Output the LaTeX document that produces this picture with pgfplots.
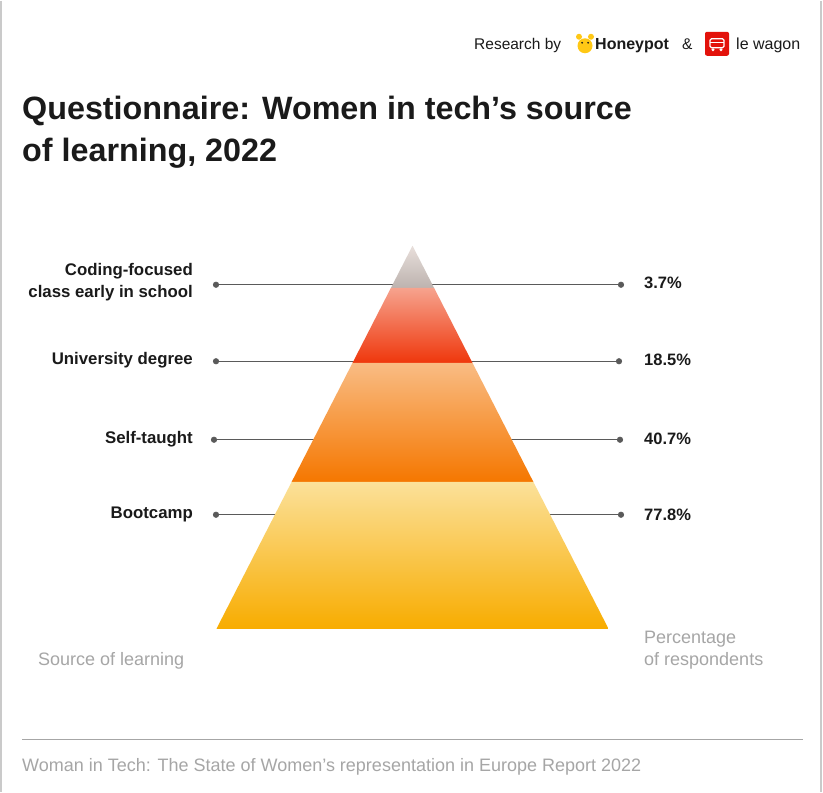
\documentclass[border=0pt]{standalone}
\usepackage{pgfplots}
\pgfplotsset{compat=1.18}
\usepackage{fontspec}
\setmainfont{Liberation Sans}

\definecolor{ink}{HTML}{1A1A1A}
\definecolor{soft}{HTML}{A6A6A6}
\definecolor{lead}{HTML}{5A5A5A}
\definecolor{grayA}{HTML}{E8DFDB}
\definecolor{grayB}{HTML}{BDB3AF}
\definecolor{redA}{HTML}{F6A38E}
\definecolor{redB}{HTML}{EF370C}
\definecolor{oraA}{HTML}{F9BC84}
\definecolor{oraB}{HTML}{F57700}
\definecolor{yelA}{HTML}{FBE19A}
\definecolor{yelB}{HTML}{F8AC00}
\definecolor{wagon}{HTML}{E3120B}
\definecolor{honey}{HTML}{FFC815}

\begin{document}
\begin{tikzpicture}
\begin{axis}[
    width=823pt, height=791pt, scale only axis,
    xmin=0, xmax=823, ymin=0, ymax=791,
    y dir=reverse,
    hide axis, clip=false,
]
% page frame
\path[fill=white] (axis cs:0,0) rectangle (axis cs:823,791);
\draw[soft!60, line width=1.5pt] (axis cs:1,0) -- (axis cs:1,791);
\draw[soft!60, line width=1.5pt] (axis cs:821,0) -- (axis cs:821,791);

% header
\node[anchor=base west, inner sep=0pt, font=\fontsize{15.5}{18}\selectfont, text=ink] at (axis cs:474,49) {Research by};
\fill[honey] (axis cs:585,45) circle[radius=7.5pt];
\fill[honey] (axis cs:579,36) circle[radius=3pt];
\fill[honey] (axis cs:591,36) circle[radius=3pt];
\fill[ink] (axis cs:582,42) circle[radius=1pt];
\fill[ink] (axis cs:588,42) circle[radius=1pt];
\node[anchor=base west, font=\fontsize{16}{18}\selectfont\bfseries, text=ink, inner sep=0pt] at (axis cs:595,49) {Honeypot};
\node[anchor=base west, font=\fontsize{15.5}{18}\selectfont, text=ink, inner sep=0pt] at (axis cs:682,49) {\&};
\fill[wagon, rounded corners=2pt] (axis cs:705,31) rectangle (axis cs:729,55);
\draw[white, line width=1.4pt, rounded corners=1.5pt] (axis cs:710,38) rectangle (axis cs:724,47);
\draw[white, line width=1pt] (axis cs:710,42) -- (axis cs:724,42);
\fill[white] (axis cs:713,49) circle[radius=1.6pt];
\fill[white] (axis cs:721,49) circle[radius=1.6pt];
\node[anchor=base west, font=\fontsize{16}{18}\selectfont, text=ink, inner sep=0pt] at (axis cs:736,49) {le wagon};

% title (base anchor = last line)
\node[anchor=base west, align=left, inner sep=0pt, text=ink,
      font=\fontsize{32.3}{42}\selectfont\bfseries] at (axis cs:22,161)
      {Questionnaire: Women in tech’s source\\of learning, 2022};

% leader lines
\addplot[lead, line width=0.9pt, mark=*, mark size=2.6pt, mark options={fill=lead, draw=lead}] coordinates {(216,284) (621,284)};
\addplot[lead, line width=0.9pt, mark=*, mark size=2.6pt, mark options={fill=lead, draw=lead}] coordinates {(216,360.5) (619,360.5)};
\addplot[lead, line width=0.9pt, mark=*, mark size=2.6pt, mark options={fill=lead, draw=lead}] coordinates {(214,439) (620,439)};
\addplot[lead, line width=0.9pt, mark=*, mark size=2.6pt, mark options={fill=lead, draw=lead}] coordinates {(216,514) (621,514)};

% pyramid segments
\addplot[draw=none, top color=grayA, bottom color=grayB] coordinates {(412.5,245) (434,287) (391,287)} -- cycle;
\addplot[draw=none, top color=redA, bottom color=redB] coordinates {(391,287) (434,287) (472.4,362) (352.6,362)} -- cycle;
\addplot[draw=none, top color=oraA, bottom color=oraB] coordinates {(352.6,362) (472.4,362) (533.3,481) (291.7,481)} -- cycle;
\addplot[draw=none, top color=yelA, bottom color=yelB] coordinates {(291.7,481) (533.3,481) (608.5,628) (216.5,628)} -- cycle;

% category labels
\node[anchor=east, align=right, inner sep=0pt, text=ink, font=\fontsize{16.8}{22}\selectfont\bfseries] at (axis cs:193,281) {Coding-focused\\class early in school};
\node[anchor=east, inner sep=0pt, text=ink, font=\fontsize{16.8}{18}\selectfont\bfseries] at (axis cs:193,359) {University degree};
\node[anchor=east, inner sep=0pt, text=ink, font=\fontsize{16.8}{18}\selectfont\bfseries] at (axis cs:193,438) {Self-taught};
\node[anchor=east, inner sep=0pt, text=ink, font=\fontsize{16.8}{18}\selectfont\bfseries] at (axis cs:193,514) {Bootcamp};

% values
\node[anchor=west, inner sep=0pt, text=ink, font=\fontsize{16.5}{18}\selectfont\bfseries] at (axis cs:644,282) {3.7\%};
\node[anchor=west, inner sep=0pt, text=ink, font=\fontsize{16.5}{18}\selectfont\bfseries] at (axis cs:644,359) {18.5\%};
\node[anchor=west, inner sep=0pt, text=ink, font=\fontsize{16.5}{18}\selectfont\bfseries] at (axis cs:644,438) {40.7\%};
\node[anchor=west, inner sep=0pt, text=ink, font=\fontsize{16.5}{18}\selectfont\bfseries] at (axis cs:644,514) {77.8\%};

% axis captions
\node[anchor=base west, inner sep=0pt, text=soft, font=\fontsize{18}{22}\selectfont] at (axis cs:38,665) {Source of learning};
\node[anchor=base west, align=left, inner sep=0pt, text=soft, font=\fontsize{18}{22}\selectfont] at (axis cs:644,665) {Percentage\\of respondents};

% footer
\draw[soft, line width=1.2pt] (axis cs:22,738.5) -- (axis cs:803,738.5);
\node[anchor=base west, inner sep=0pt, text=soft, font=\fontsize{18}{20}\selectfont] at (axis cs:22,771) {Woman in Tech: The State of Women’s representation in Europe Report 2022};
\end{axis}
\end{tikzpicture}
\end{document}
